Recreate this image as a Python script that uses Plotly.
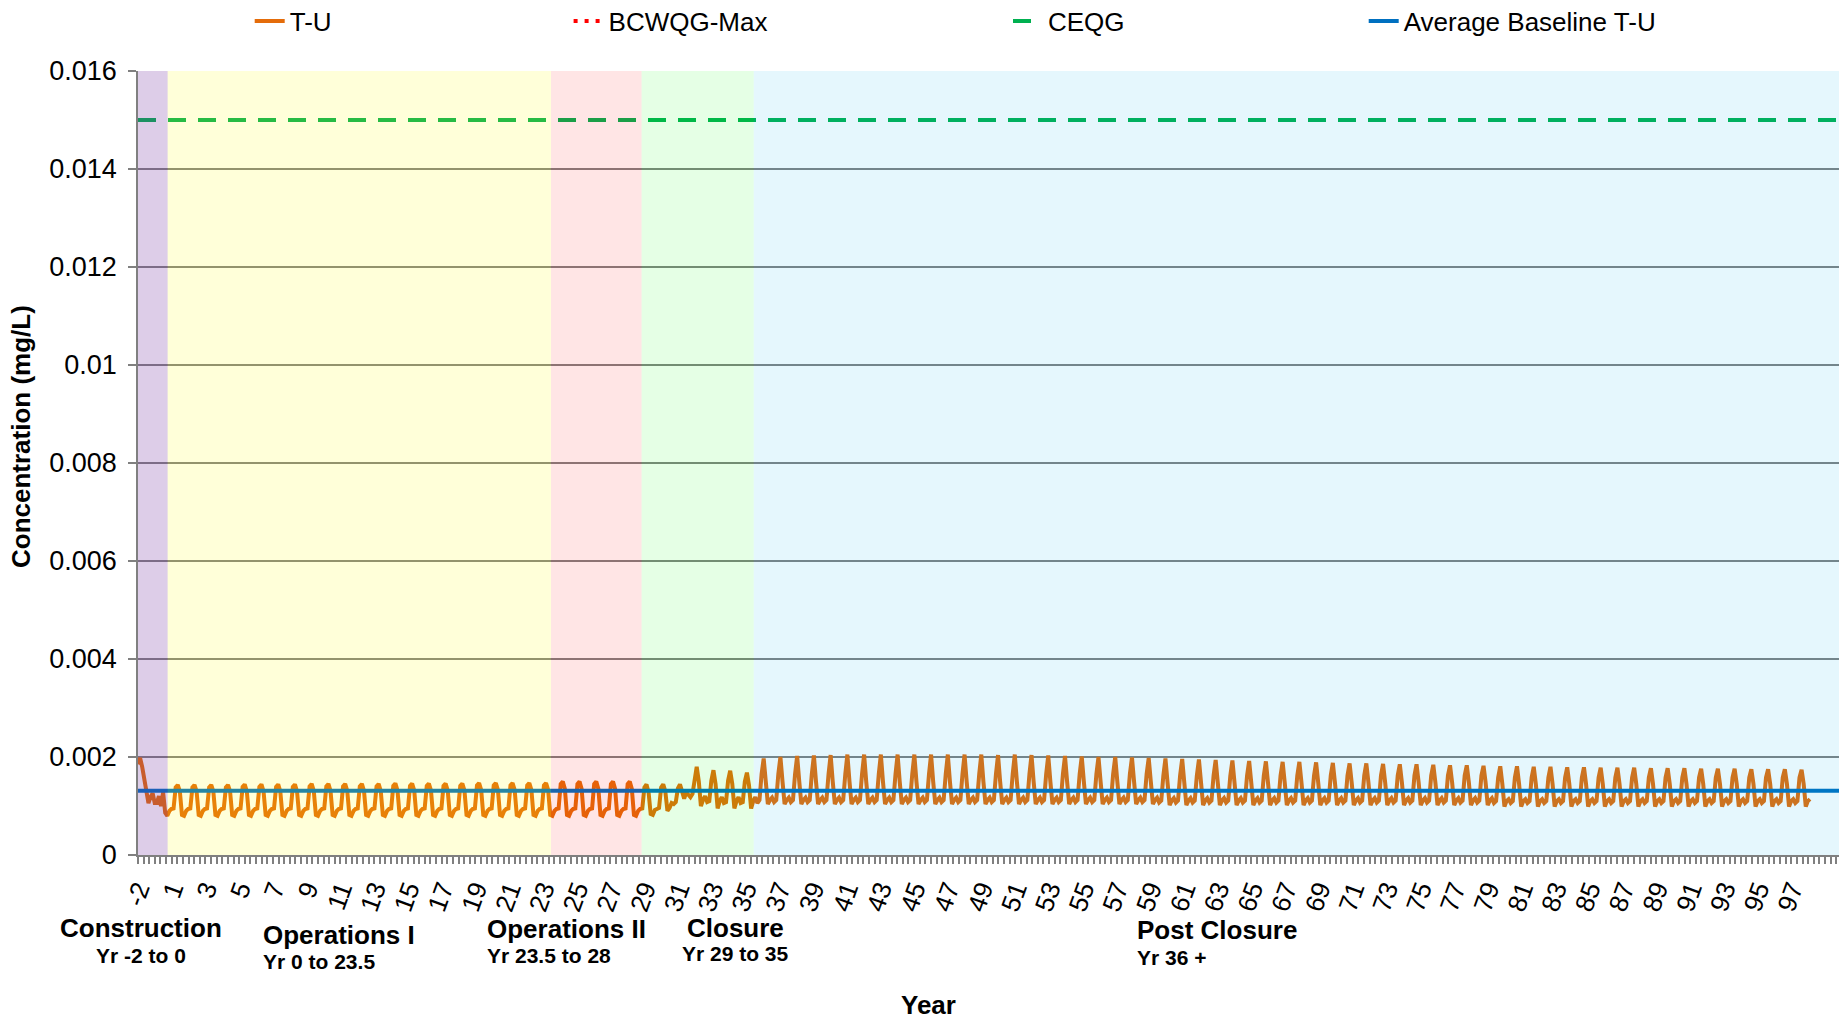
import plotly.graph_objects as go

# T-U concentration, in 1e-5 mg/L, 8 readings per year
T_U_ROWS = [
    [185, 198, 180, 155, 120, 106, 118, 126],
    [106, 106, 120, 100, 128, 86, 80, 90],
    [94, 95, 138, 143, 130, 82, 80, 90],
    [94, 95, 138, 143, 130, 82, 80, 90],
    [94, 95, 138, 143, 130, 82, 80, 90],
    [94, 95, 138, 143, 130, 82, 80, 90],
    [94, 95, 139, 144, 130, 82, 80, 90],
    [94, 95, 139, 144, 130, 82, 80, 90],
    [94, 95, 139, 144, 130, 82, 80, 90],
    [94, 95, 139, 144, 130, 82, 80, 90],
    [94, 95, 140, 145, 131, 82, 80, 90],
    [94, 95, 140, 145, 131, 82, 80, 90],
    [94, 95, 140, 145, 131, 82, 80, 90],
    [94, 95, 140, 145, 131, 82, 80, 90],
    [94, 95, 140, 145, 131, 82, 80, 90],
    [94, 95, 141, 146, 132, 82, 80, 90],
    [94, 95, 141, 146, 132, 82, 80, 90],
    [94, 95, 141, 146, 132, 82, 80, 90],
    [94, 95, 141, 146, 132, 82, 80, 90],
    [94, 95, 141, 146, 132, 82, 80, 90],
    [94, 95, 142, 147, 133, 82, 80, 90],
    [94, 95, 142, 147, 133, 82, 80, 90],
    [94, 95, 142, 147, 133, 82, 80, 90],
    [94, 95, 142, 147, 133, 82, 80, 90],
    [94, 95, 142, 147, 133, 82, 80, 90],
    [94, 95, 145, 150, 135, 82, 80, 90],
    [94, 95, 145, 150, 135, 82, 80, 90],
    [94, 95, 145, 150, 135, 82, 80, 90],
    [94, 95, 145, 150, 135, 82, 80, 90],
    [94, 95, 145, 150, 135, 82, 80, 90],
    [94, 95, 138, 144, 128, 84, 82, 92],
    [94, 96, 138, 144, 130, 90, 96, 106],
    [104, 108, 136, 144, 130, 115, 128, 122],
    [118, 125, 160, 180, 150, 100, 112, 120],
    [108, 110, 152, 173, 145, 95, 110, 118],
    [106, 108, 152, 172, 145, 95, 110, 118],
    [106, 108, 150, 168, 142, 95, 110, 118],
    [106, 112, 165, 197, 150, 104, 112, 117],
    [108, 112, 165, 200, 150, 104, 112, 117],
    [108, 112, 165, 202, 150, 104, 112, 117],
    [108, 112, 165, 203, 150, 104, 112, 117],
    [108, 112, 165, 204, 150, 104, 112, 117],
    [108, 112, 165, 205, 150, 104, 112, 117],
    [108, 112, 165, 205, 150, 104, 112, 117],
    [108, 112, 165, 205, 150, 104, 112, 117],
    [108, 112, 165, 205, 150, 104, 112, 117],
    [108, 112, 165, 205, 150, 104, 112, 117],
    [108, 112, 165, 205, 150, 104, 112, 117],
    [108, 112, 165, 205, 150, 104, 112, 117],
    [108, 112, 165, 205, 150, 104, 112, 117],
    [108, 112, 165, 205, 150, 104, 112, 117],
    [108, 112, 165, 204, 150, 104, 112, 117],
    [108, 112, 165, 205, 150, 104, 112, 117],
    [108, 112, 165, 204, 150, 104, 112, 117],
    [108, 112, 165, 203, 150, 104, 112, 117],
    [108, 112, 165, 202, 150, 104, 112, 117],
    [108, 112, 165, 201, 150, 104, 112, 117],
    [108, 112, 165, 200, 150, 104, 112, 117],
    [108, 112, 165, 200, 150, 104, 112, 117],
    [108, 112, 165, 199, 150, 104, 112, 117],
    [108, 112, 165, 198, 150, 104, 112, 117],
    [107, 111, 162, 197, 148, 102, 111, 116],
    [107, 111, 162, 196, 148, 102, 111, 116],
    [107, 111, 162, 195, 148, 102, 111, 116],
    [107, 111, 162, 194, 148, 102, 111, 116],
    [107, 111, 162, 193, 148, 102, 111, 116],
    [107, 111, 162, 192, 148, 102, 111, 116],
    [107, 111, 162, 191, 148, 102, 111, 116],
    [107, 111, 162, 190, 148, 102, 111, 116],
    [107, 111, 162, 190, 148, 102, 111, 116],
    [107, 111, 162, 189, 148, 102, 111, 116],
    [107, 111, 162, 188, 148, 102, 111, 116],
    [107, 111, 162, 187, 148, 102, 111, 116],
    [107, 111, 162, 187, 148, 102, 111, 116],
    [107, 111, 162, 186, 148, 102, 111, 116],
    [107, 111, 162, 185, 148, 102, 111, 116],
    [107, 111, 162, 185, 148, 102, 111, 116],
    [107, 111, 162, 184, 148, 102, 111, 116],
    [107, 111, 162, 183, 148, 102, 111, 116],
    [107, 111, 162, 183, 148, 102, 111, 116],
    [107, 111, 162, 182, 148, 102, 111, 116],
    [106, 110, 158, 181, 145, 99, 110, 114],
    [106, 110, 158, 181, 145, 99, 110, 114],
    [106, 110, 158, 180, 145, 99, 110, 114],
    [106, 110, 158, 180, 145, 99, 110, 114],
    [106, 110, 158, 179, 145, 99, 110, 114],
    [106, 110, 158, 179, 145, 99, 110, 114],
    [106, 110, 158, 178, 145, 99, 110, 114],
    [106, 110, 158, 178, 145, 99, 110, 114],
    [106, 110, 158, 178, 145, 99, 110, 114],
    [106, 110, 158, 177, 145, 99, 110, 114],
    [106, 110, 158, 177, 145, 99, 110, 114],
    [106, 110, 158, 177, 145, 99, 110, 114],
    [106, 110, 158, 176, 145, 99, 110, 114],
    [106, 110, 158, 176, 145, 99, 110, 114],
    [106, 110, 158, 176, 145, 99, 110, 114],
    [106, 110, 158, 175, 145, 99, 110, 114],
    [106, 110, 158, 175, 145, 99, 110, 114],
    [106, 110, 158, 175, 145, 99, 110, 114],
    [106, 110, 158, 174, 145, 99, 110, 114],
]
T_U_START = -0.5      # position of first reading on the year axis
READINGS_PER_YEAR = 8

CEQG = 0.015
AVG_BASELINE_TU = 0.00131
BCWQG_MAX = [None]    # above the plotted range

X_TICK_LABELS = ["-2", "1", "3", "5", "7", "9", "11", "13", "15", "17", "19", "21", "23",
                 "25", "27", "29", "31", "33", "35", "37", "39", "41", "43", "45", "47",
                 "49", "51", "53", "55", "57", "59", "61", "63", "65", "67", "69", "71",
                 "73", "75", "77", "79", "81", "83", "85", "87", "89", "91", "93", "95", "97"]
Y_TICKS = [0, 0.002, 0.004, 0.006, 0.008, 0.01, 0.012, 0.014, 0.016]
Y_TICK_LABELS = ["0", "0.002", "0.004", "0.006", "0.008", "0.01", "0.012", "0.014", "0.016"]

PHASES = ["Construction", "Operations I", "Operations II", "Closure", "Post Closure"]
PHASE_YEARS = ["Yr -2 to 0", "Yr 0 to 23.5", "Yr 23.5 to 28", "Yr 29 to 35", "Yr 36 +"]
PHASE_EDGES = [-0.5, 1.27, 24.17, 29.58, 36.28, 101.11]
PHASE_COLORS = ["rgba(112,48,160,0.24)", "rgba(255,255,0,0.15)", "rgba(255,0,0,0.1)",
                "rgba(0,255,0,0.1)", "rgba(0,176,240,0.1)"]

X_MIN, X_MAX = PHASE_EDGES[0], PHASE_EDGES[-1]
LABEL_STEP = 2.0156   # axis labels are a touch wider apart than the yearly cycle
FONT = "Liberation Sans, Arial, sans-serif"
GRID = "#808080"

t_u = [v * 1e-5 for row in T_U_ROWS for v in row]
t_u_x = [T_U_START + i / READINGS_PER_YEAR for i in range(len(t_u))]

fig = go.Figure()
fig.add_trace(go.Scatter(x=t_u_x, y=t_u, mode="lines", name="T-U", showlegend=True,
                         line=dict(color="#E46C0A", width=4), legend="legend"))
fig.add_trace(go.Scatter(x=[X_MIN], y=BCWQG_MAX, mode="lines", name="BCWQG-Max",
                         line=dict(color="#FF0000", width=4, dash="4px,7px"), legend="legend2"))
fig.add_trace(go.Scatter(x=[X_MIN, X_MAX], y=[CEQG, CEQG], mode="lines", name="CEQG",
                         line=dict(color="#00B050", width=4, dash="18px,12px"), legend="legend3"))
fig.add_trace(go.Scatter(x=[X_MIN, X_MAX], y=[AVG_BASELINE_TU, AVG_BASELINE_TU], mode="lines",
                         name="Average Baseline T-U", line=dict(color="#0070C0", width=4),
                         legend="legend4"))

# project phase bands sit over the lines, like the original
for i, col in enumerate(PHASE_COLORS):
    fig.add_shape(type="rect", xref="x", yref="y", x0=PHASE_EDGES[i], x1=PHASE_EDGES[i + 1],
                  y0=0, y1=0.016, fillcolor=col, line_width=0, layer="above")

# phase labels under the axis (x in axis units, y in pixels from top)
title_pos = [(-0.35, "center", 928), (6.86, "left", 934.6), (20.24, "left", 928.7),
             (32.15, "left", 927.5), (59.04, "left", 930)]
years_pos = [(-0.3, "center", 955.7), (6.86, "left", 961.5), (20.24, "left", 955.7),
             (31.86, "left", 953), (59.04, "left", 957)]
H, T, B = 1019, 71, 164
plot_h = H - T - B


def py(px):
    return (H - B - px) / plot_h


for name, (x, anc, y) in zip(PHASES, title_pos):
    fig.add_annotation(text="<b>%s</b>" % name, x=x, xanchor=anc, y=py(y), yanchor="middle",
                       xref="x", yref="paper", showarrow=False,
                       font=dict(size=26, color="black", family=FONT))
for name, (x, anc, y) in zip(PHASE_YEARS, years_pos):
    fig.add_annotation(text="<b>%s</b>" % name, x=x, xanchor=anc, y=py(y), yanchor="middle",
                       xref="x", yref="paper", showarrow=False,
                       font=dict(size=21, color="black", family=FONT))

fig.add_annotation(text="<b>Year</b>", x=(928.7 - 138) / 1701, y=py(1005), xref="paper",
                   yref="paper", showarrow=False, xanchor="center", yanchor="middle",
                   font=dict(size=26, color="black", family=FONT))
fig.add_annotation(text="<b>Concentration (mg/L)</b>", x=(21 - 138) / 1701, y=py(437),
                   xref="paper", yref="paper", showarrow=False, textangle=-90,
                   xanchor="center", yanchor="middle",
                   font=dict(size=26, color="black", family=FONT))

legend_style = dict(orientation="h", xref="container", yref="container", y=1 - 21 / H,
                    yanchor="middle", xanchor="left", bgcolor="rgba(0,0,0,0)",
                    font=dict(size=26, color="black", family=FONT))
fig.update_layout(
    showlegend=True,
    legend=dict(x=(289.7 - 40) / 1839, **legend_style),
    legend2=dict(x=(608.6 - 40) / 1839, **legend_style),
    legend3=dict(x=(1048 - 40) / 1839, **legend_style),
    legend4=dict(x=(1403.7 - 40) / 1839, **legend_style),
)

fig.update_xaxes(range=[X_MIN, X_MAX],
                 tickvals=[X_MIN + LABEL_STEP * i for i in range(len(X_TICK_LABELS))],
                 ticktext=X_TICK_LABELS, tickangle=-70, ticks="outside", ticklen=7,
                 tickcolor=GRID, tickwidth=1.5, showline=True, linecolor=GRID, linewidth=1.5,
                 showgrid=False, zeroline=False,
                 tickfont=dict(size=26, color="black", family=FONT),
                 minor=dict(tick0=X_MIN, dtick=LABEL_STEP / 6, ticks="outside", ticklen=7,
                            tickcolor=GRID, tickwidth=1.5, showgrid=False))
fig.update_yaxes(range=[0, 0.016], tickvals=Y_TICKS, ticktext=Y_TICK_LABELS, ticks="outside",
                 ticklen=8, tickcolor=GRID, tickwidth=1.5, showline=True, linecolor=GRID,
                 linewidth=1.5, showgrid=True, gridcolor=GRID, gridwidth=1.5, zeroline=False,
                 ticklabelstandoff=6, tickfont=dict(size=27, color="black", family=FONT))

fig.update_layout(width=1839, height=H, margin=dict(l=138, r=0, t=T, b=B, pad=0),
                  plot_bgcolor="white", paper_bgcolor="white",
                  font=dict(family=FONT, color="black"))

fig.write_html("out.html", config={"displayModeBar": False},
               post_script="document.body.style.margin = '0px';")
